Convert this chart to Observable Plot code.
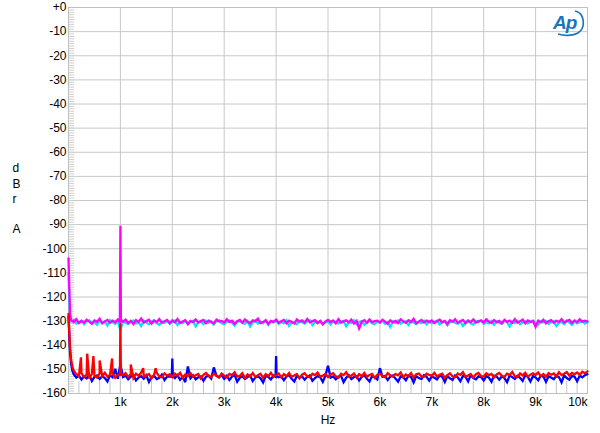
<!DOCTYPE html>
<html>
<head>
<meta charset="utf-8">
<script src="https://cdn.jsdelivr.net/npm/d3@7"></script>
<script src="https://cdn.jsdelivr.net/npm/@observablehq/plot@0.6"></script>
<style>
  html, body { margin: 0; padding: 0; background: #fff; }
  #wrap { position: relative; width: 600px; height: 433px; }
  #logo { position: absolute; left: 548px; top: 6px; }
</style>
</head>
<body>
<div id="wrap">
  <div id="chart"></div>
  <svg id="logo" width="40" height="32" viewBox="0 0 40 32">
    <text x="5" y="23" font-family="Liberation Sans, Arial" font-style="italic" font-weight="bold" font-size="19" fill="#1b75bc" letter-spacing="-1">Ap</text>
    <path d="M27,5 C37,7 38,22 30,27 C25,30 16,30 10,28" fill="none" stroke="#1b75bc" stroke-width="1.6"/>
  </svg>
</div>
<script>
// ---- Data (dB vs Hz, FFT floor sampled every 50 Hz) ----
const binHz = 50;
const xTickValues = [1000, 2000, 3000, 4000, 5000, 6000, 7000, 8000, 9000, 10000];
const xTickLabels = ["1k", "2k", "3k", "4k", "5k", "6k", "7k", "8k", "9k", "10k"];
const yTickValues = [0, -10, -20, -30, -40, -50, -60, -70, -80, -90, -100, -110, -120, -130, -140, -150, -160];
const yTickLabels = ["+0", "-10", "-20", "-30", "-40", "-50", "-60", "-70", "-80", "-90", "-100", "-110", "-120", "-130", "-140", "-150", "-160"];

const cyanDb = [
 -110, -130.2, -129.5, -131.0, -130.6, -129.8, -131.3, -130.1, -129.7, -130.9, -130.4, -131.5, -129.9, -130.7, -130.2, -131.8, -129.6, -130.5, -131.1, -130.0,
 -134.0, -129.9, -130.8, -131.2, -130.3, -129.7, -131.0, -130.5, -132.0, -129.8, -130.6, -131.3, -130.1, -129.6, -130.9, -131.5, -130.2, -130.7, -129.9, -131.1,
 -130.4, -129.8, -131.6, -130.3, -130.8, -129.7, -131.0, -130.5, -129.9, -132.2, -130.6, -130.1, -131.2, -129.8, -130.7, -130.3, -131.4, -130.0, -129.6, -130.9,
 -131.3, -130.2, -129.8, -130.7, -131.8, -130.4, -129.9, -130.6, -131.1, -130.0, -132.3, -130.5, -129.7, -131.0, -130.3, -130.8, -129.9, -131.5, -130.2, -130.6,
 -129.8, -131.2, -130.4, -130.9, -129.7, -132.0, -130.3, -130.7, -131.3, -129.9, -130.5, -131.0, -130.1, -129.6, -131.6, -130.4, -130.8, -130.0, -131.2, -130.5,
 -130.2, -131.4, -129.8, -130.6, -131.0, -130.3, -129.9, -132.1, -130.5, -130.8, -129.7, -131.2, -130.4, -130.0, -131.5, -130.6, -129.8, -130.9, -131.3, -130.1,
 -130.7, -129.9, -131.1, -130.4, -132.4, -130.2, -130.8, -129.7, -131.0, -130.5, -130.1, -131.6, -129.9, -130.6, -131.2, -130.3, -130.8, -129.8, -131.4, -130.2,
 -130.9, -130.3, -129.8, -131.3, -130.5, -130.0, -131.7, -130.4, -129.9, -130.8, -131.1, -130.2, -132.0, -130.6, -129.7, -130.9, -131.4, -130.1, -130.5, -129.8,
 -131.2, -130.4, -130.9, -129.9, -131.5, -130.2, -130.7, -131.0, -129.8, -130.5, -132.2, -130.3, -130.8, -129.9, -131.3, -130.6, -130.1, -131.0, -130.4, -129.7,
 -130.8, -131.4, -130.2, -130.6, -129.9, -131.1, -130.5, -130.0, -132.0, -130.7, -130.3, -131.2, -129.8, -130.6, -131.5, -130.1, -130.9, -130.4, -129.9, -131.0,
 -130.5
];
const cyanExtraHz = [10, 20, 30];
const cyanExtraDb = [-117, -124, -129];

const magentaDb = [
 -104, -129.6, -130.4, -129.2, -130.8, -129.9, -130.6, -129.4, -130.2, -131.1, -129.7, -130.3, -129.0, -130.9, -130.1, -129.5, -130.7, -129.8, -130.5, -129.3,
 -90.5, -130.2, -129.4, -130.8, -129.9, -131.2, -129.6, -130.3, -128.9, -130.6, -130.0, -129.4, -131.0, -129.8, -130.4, -129.2, -130.7, -130.1, -129.5, -130.9,
 -129.7, -130.5, -129.1, -130.8, -130.2, -129.6, -131.3, -129.9, -130.4, -129.3, -130.6, -130.0, -129.5, -130.9, -129.8, -130.3, -131.0, -129.4, -130.2, -129.9,
 -130.6, -129.2, -130.4, -129.8, -131.1, -130.0, -129.5, -130.7, -129.3, -130.3, -130.9, -129.7, -130.1, -129.0, -130.8, -130.4, -129.6, -131.2, -129.9, -130.3,
 -129.4, -130.7, -130.1, -129.5, -130.9, -129.8, -130.4, -131.0, -129.3, -130.2, -129.7, -130.6, -129.1, -130.5, -130.0, -129.6, -130.8, -129.9, -131.4, -130.2,
 -129.5, -130.3, -129.8, -130.9, -129.2, -130.6, -130.1, -129.7, -130.5, -129.4, -131.0, -129.9, -133.0, -130.3, -129.6, -130.7, -129.3, -130.4, -130.0, -129.8,
 -130.6, -129.4, -130.2, -131.1, -129.7, -130.5, -129.9, -130.8, -129.3, -130.1, -130.7, -129.6, -130.4, -129.0, -130.9, -130.2, -129.5, -130.6, -129.8, -130.3,
 -129.7, -130.8, -130.0, -129.4, -130.5, -129.9, -131.2, -129.6, -130.3, -129.2, -130.7, -130.1, -129.5, -130.9, -129.8, -130.4, -129.3, -130.6, -130.0, -129.7,
 -130.5, -129.3, -130.2, -130.8, -129.6, -130.4, -129.9, -131.0, -129.5, -130.3, -129.8, -130.7, -129.2, -130.6, -130.1, -129.4, -130.9, -129.7, -130.3, -130.0,
 -132.4, -129.8, -130.5, -129.4, -130.9, -130.1, -129.6, -130.7, -129.9, -130.3, -129.2, -130.6, -130.0, -129.5, -130.8, -129.7, -130.4, -129.3, -130.2, -129.8,
 -130.1
];
const magentaExtraHz = [10, 20, 30, 990, 1010];
const magentaExtraDb = [-112, -120, -127, -130.3, -129.8];

const blueDb = [
 -128, -147.5, -152.0, -153.4, -152.6, -154.2, -152.9, -153.7, -152.3, -154.8, -153.1, -152.5, -154.0, -152.8, -153.6, -155.0, -152.4, -153.3, -149.8, -153.9,
 -148.0, -153.2, -152.6, -154.1, -153.0, -152.3, -154.6, -153.4, -152.8, -153.9, -152.5, -155.2, -153.1, -152.7, -154.0, -153.5, -152.2, -154.4, -153.0, -152.9,
 -145.5, -153.6, -152.4, -154.3, -153.1, -155.3, -148.8, -153.7, -152.5, -154.1, -153.3, -152.9, -154.7, -153.0, -152.6, -153.8, -149.2, -152.7, -153.2, -152.4,
 -153.9, -152.6, -154.4, -153.0, -152.3, -155.1, -153.5, -152.8, -154.0, -153.2, -152.5, -154.8, -153.4, -152.9, -153.7, -155.4, -152.7, -153.1, -154.2, -152.6,
 -144.5, -153.3, -152.8, -154.5, -153.0, -152.4, -153.9, -155.0, -152.7, -153.4, -152.9, -154.3, -153.1, -152.5, -154.7, -153.6, -152.8, -153.2, -155.2, -152.6,
 -148.5, -153.4, -152.9, -154.1, -153.0, -152.6, -155.3, -153.5, -152.4, -154.0, -153.2, -152.8, -154.6, -153.1, -152.5, -153.9, -155.0, -152.7, -153.3, -154.2,
 -149.5, -153.1, -152.7, -154.4, -153.0, -152.5, -153.8, -155.1, -152.9, -153.3, -154.5, -152.6, -153.2, -155.4, -152.8, -153.6, -154.0, -152.4, -153.1, -154.7,
 -152.9, -153.5, -154.2, -152.6, -153.0, -155.2, -152.8, -153.7, -154.4, -152.5, -153.3, -154.9, -152.7, -153.1, -155.0, -152.4, -153.6, -154.1, -152.9, -153.2,
 -154.6, -152.8, -153.4, -155.1, -152.6, -153.0, -154.3, -152.9, -153.6, -155.3, -152.5, -153.2, -154.0, -152.7, -153.5, -154.8, -152.4, -153.1, -155.0, -152.8,
 -153.3, -154.5, -152.6, -153.0, -155.2, -152.9, -153.4, -154.1, -152.7, -153.2, -155.4, -152.5, -153.6, -154.3, -152.8, -153.0, -154.9, -152.6, -153.3, -152.4,
 -152.0
];
const blueExtraHz = [10, 20, 30, 75, 1990, 2010, 3990, 4010];
const blueExtraDb = [-133, -139, -143, -150.5, -153.0, -152.8, -153.1, -152.9];

const redDb = [
 -127, -146.0, -150.5, -152.0, -152.8, -151.6, -153.2, -152.1, -153.8, -151.9, -152.6, -153.4, -151.7, -152.9, -151.4, -153.0, -152.3, -151.8, -153.5, -152.2,
 -131.0, -152.4, -151.6, -153.1, -152.0, -153.6, -151.8, -152.7, -151.3, -153.0, -152.5, -151.9, -153.7, -152.2, -151.5, -152.9, -153.3, -151.7, -152.6, -152.0,
 -153.2, -151.8, -152.6, -151.4, -153.5, -152.1, -152.8, -151.6, -153.0, -152.4, -151.9, -153.8, -152.3, -151.5, -152.7, -153.1, -151.8, -152.5, -153.4, -151.7,
 -152.6, -153.3, -151.9, -152.4, -151.2, -153.0, -152.7, -151.6, -153.6, -152.1, -152.9, -151.5, -153.2, -152.4, -151.8, -153.5, -152.0, -152.8, -151.4, -153.1,
 -152.3, -151.7, -153.4, -152.0, -152.8, -151.5, -153.1, -152.5, -151.9, -153.7, -152.2, -151.6, -152.9, -153.3, -151.8, -152.4, -151.3, -153.0, -152.6, -151.9,
 -153.2, -152.1, -151.6, -152.9, -153.5, -151.8, -152.4, -151.2, -153.0, -152.6, -151.7, -153.4, -152.0, -152.8, -151.5, -153.1, -152.3, -151.9, -153.6, -152.2,
 -151.8, -152.7, -153.3, -151.6, -152.4, -153.0, -151.9, -152.5, -151.3, -153.2, -152.1, -152.8, -151.5, -153.4, -152.0, -151.7, -152.9, -153.1, -151.8, -152.3,
 -152.6, -151.4, -153.0, -152.2, -151.8, -153.5, -152.4, -151.6, -152.9, -153.2, -151.7, -152.3, -151.2, -153.1, -152.5, -151.9, -153.4, -152.0, -151.5, -152.8,
 -153.0, -151.6, -152.4, -151.9, -153.3, -152.1, -151.5, -152.7, -153.1, -151.8, -152.3, -151.1, -152.9, -153.2, -151.7, -152.5, -151.4, -153.0, -152.2, -151.6,
 -152.3, -151.3, -152.8, -151.9, -153.0, -151.5, -152.2, -151.7, -152.9, -151.2, -152.4, -151.8, -151.1, -152.6, -151.5, -152.0, -151.3, -152.3, -151.0, -151.6,
 -150.8
];
const redExtraHz = [10, 20, 30, 75, 240, 360, 480, 600, 840, 990, 1010, 1200, 1440, 1680];
const redExtraDb = [-132, -137, -141, -149, -145, -143.5, -144.5, -146.3, -145.5, -152.3, -152.1, -148, -149.5, -149.5];

// ---- Build series (floor bins merged with extra points) ----
function series(name, floorDb, extraHz, extraDb) {
  const pts = floorDb.map((db, i) => ({hz: i * binHz, db, name}));
  extraHz.forEach((hz, i) => pts.push({hz, db: extraDb[i], name}));
  return pts.sort((a, b) => a.hz - b.hz);
}
const cyan = series("cyan", cyanDb, cyanExtraHz, cyanExtraDb);
const magenta = series("magenta", magentaDb, magentaExtraHz, magentaExtraDb);
const blue = series("blue", blueDb, blueExtraHz, blueExtraDb);
const red = series("red", redDb, redExtraHz, redExtraDb);

const gridColor = "#c8c8c8";
const font = "'Liberation Sans', Arial, sans-serif";
const lineStyle = {x: "hz", y: "db", strokeWidth: 2.3, strokeLinejoin: "miter", strokeMiterlimit: 3};

const chart = Plot.plot({
  width: 600,
  height: 433,
  marginLeft: 68,
  marginRight: 13,
  marginTop: 7,
  marginBottom: 40,
  style: {fontFamily: font, fontSize: "12px", background: "#fff", color: "#000"},
  x: {domain: [0, 10000], axis: null},
  y: {domain: [-160, 0], axis: null},
  marks: [
    // grid
    Plot.ruleX(xTickValues.slice(0, -1), {stroke: gridColor, strokeWidth: 1}),
    Plot.ruleY(yTickValues, {stroke: gridColor, strokeWidth: 1}),
    // minor ticks inside frame
    Plot.ruleX(d3.range(200, 10000, 200), {stroke: "#c4c4c4", insetTop: 374}),
    Plot.ruleY(d3.range(-159, 0, 1), {stroke: "#cfcfcf", insetRight: 513}),
    Plot.frame({stroke: "#c0c0c0"}),
    // traces
    Plot.line(cyan, {...lineStyle, stroke: "#00e5ee"}),
    Plot.line(magenta, {...lineStyle, stroke: "#ff00ff"}),
    Plot.line(blue, {...lineStyle, stroke: "#0000ff"}),
    Plot.line(red, {...lineStyle, stroke: "#ff0000"}),
    // y tick labels
    Plot.text(yTickValues, {y: d => d, frameAnchor: "left", dx: -2, textAnchor: "end",
      text: (d, i) => yTickLabels[i], fill: "#000", fontSize: 12}),
    // x tick labels
    Plot.text(xTickValues.slice(0, -1), {x: d => d, frameAnchor: "bottom", dy: 12,
      text: (d, i) => xTickLabels[i], fill: "#000", fontSize: 12}),
    Plot.text(xTickValues.slice(-1), {x: d => d, frameAnchor: "bottom", dy: 12, textAnchor: "end",
      text: () => xTickLabels[xTickLabels.length - 1], fill: "#000", fontSize: 12}),
    // axis labels
    Plot.text(["Hz"], {frameAnchor: "bottom", dy: 30, fill: "#000", fontSize: 12}),
    Plot.text(["d\nB\nr\n\nA"], {frameAnchor: "left", dx: -56, dy: -2.5, lineHeight: 1.27,
      fill: "#000", fontSize: 12})
  ]
});
document.getElementById("chart").appendChild(chart);
</script>
</body>
</html>
